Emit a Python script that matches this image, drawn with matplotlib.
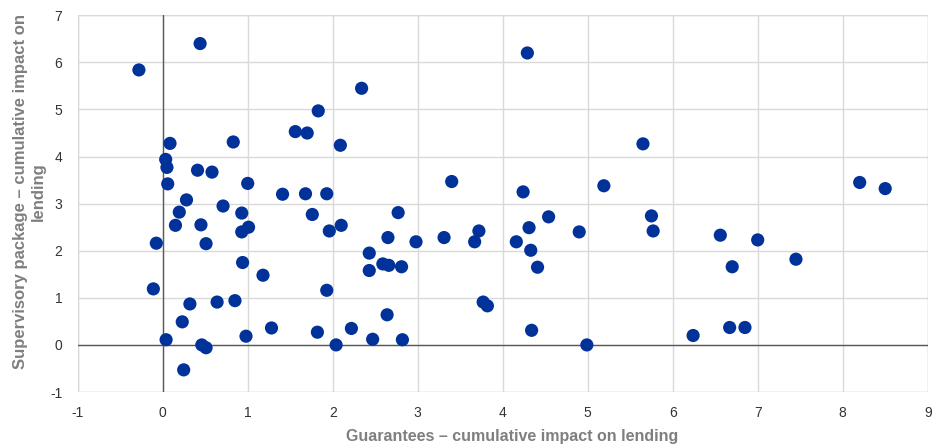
import matplotlib
matplotlib.use("Agg")
import matplotlib.pyplot as plt

guarantees = [-0.28, 0.44, 2.34, 1.83, 1.56, 1.70, 2.09, 0.086, 0.83, 0.035,
              0.05, 0.41, 0.58, 0.059, 1.00, 1.41, 1.68, 1.93, 0.28, 0.71,
              0.195, 0.93, 1.76, 0.15, 0.45, 1.01, 0.93, 1.96, 2.10, -0.075,
              0.51, 2.43, 2.43, 0.94, 1.18, -0.11, 1.93, 0.32, 0.64, 0.85,
              0.23, 1.28, 1.82, 2.22, 2.47, 0.04, 0.98, 0.46, 0.51, 2.04,
              0.247, 4.29, 5.65, 3.40, 4.24, 5.19, 2.77, 4.54, 5.75, 5.77,
              2.65, 2.98, 3.31, 3.72, 3.67, 4.16, 4.31, 4.33, 4.41, 4.90,
              2.59, 2.66, 2.81, 3.77, 3.82, 2.64, 2.82, 4.34, 4.99, 8.20,
              8.50, 6.56, 7.00, 6.70, 7.45, 6.24, 6.67, 6.85]
supervisory = [5.84, 6.40, 5.45, 4.97, 4.53, 4.50, 4.24, 4.28, 4.31, 3.94,
               3.77, 3.71, 3.67, 3.42, 3.43, 3.20, 3.21, 3.21, 3.08, 2.95,
               2.82, 2.80, 2.77, 2.54, 2.55, 2.50, 2.40, 2.42, 2.54, 2.16,
               2.15, 1.95, 1.58, 1.75, 1.48, 1.19, 1.16, 0.87, 0.91, 0.94,
               0.49, 0.36, 0.27, 0.35, 0.12, 0.11, 0.185, 0.0, -0.06, 0.0,
               -0.53, 6.20, 4.27, 3.47, 3.25, 3.38, 2.81, 2.72, 2.74, 2.42,
               2.28, 2.19, 2.28, 2.42, 2.19, 2.19, 2.49, 2.01, 1.65, 2.40,
               1.72, 1.69, 1.66, 0.91, 0.83, 0.64, 0.11, 0.31, 0.0, 3.45,
               3.32, 2.33, 2.23, 1.66, 1.82, 0.20, 0.37, 0.37]

x_ticks = list(range(-1, 10))
y_ticks = list(range(-1, 8))
x_label = "Guarantees \u2013 cumulative impact on lending"
y_label = "Supervisory package \u2013 cumulative impact on\nlending"

plt.rcParams['font.family'] = ['Liberation Sans', 'DejaVu Sans']
plt.rcParams['axes.unicode_minus'] = False

fig = plt.figure(figsize=(9.35, 4.45), dpi=100)
ax = fig.add_axes([0.0831, 0.1191, 0.9091, 0.8465])

ax.set_xlim(-1, 9)
ax.set_ylim(-1, 7)
ax.set_xticks(x_ticks)
ax.set_yticks(y_ticks)
ax.grid(True, color='#d9d9d9', linewidth=1.0, zorder=0)
ax.set_axisbelow(True)
for s in ax.spines.values():
    s.set_visible(False)
ax.axhline(0, color='#595959', linewidth=1.0, zorder=1)
ax.axvline(0, color='#595959', linewidth=1.0, zorder=1)
ax.axhline(-1, color='#d9d9d9', linewidth=1.0, zorder=0)
ax.axhline(7, color='#d9d9d9', linewidth=1.0, zorder=0)
ax.axvline(-1, color='#d9d9d9', linewidth=1.0, zorder=0)
ax.axvline(9, color='#d9d9d9', linewidth=1.0, zorder=0)

ax.tick_params(length=0, labelsize=10, labelcolor='#333333')
ax.tick_params(axis='y', pad=11)
ax.tick_params(axis='x', pad=10)
ax.scatter(guarantees, supervisory, s=90, color='#003299', edgecolors='none', zorder=3, clip_on=False)

ax.set_xlabel(x_label, fontsize=11.5, fontweight='bold', color='#7f7f7f')
ax.set_ylabel(y_label, fontsize=12, fontweight='bold', color='#7f7f7f')
ax.xaxis.set_label_coords(0.511, -0.097)
ax.yaxis.set_label_coords(-0.0375, 0.531)

fig.savefig('out.png', dpi=100)
